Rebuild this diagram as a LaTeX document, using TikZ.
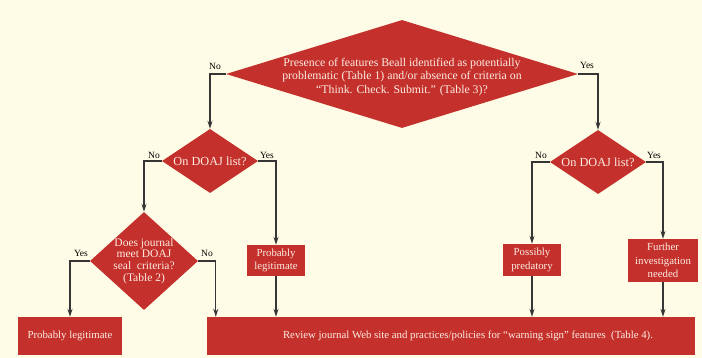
\documentclass[tikz,border=0pt]{standalone}
\usepackage{fontspec}
\setmainfont{Liberation Serif}
\usetikzlibrary{shapes.geometric,arrows.meta}
\definecolor{bgc}{HTML}{FEFCE6}
\definecolor{redc}{HTML}{C4302B}
\definecolor{txtc}{HTML}{FBEDE3}
\definecolor{linec}{HTML}{363636}
\tikzset{
  dia/.style={diamond, fill=redc, draw=none, inner sep=0pt},
  dtext/.style={text=txtc, align=center, font=\fontsize{11.8}{13.4}\selectfont, inner sep=0pt},
  rbox/.style={rectangle, fill=redc, draw=none, text=txtc, align=center, inner sep=2pt, font=\fontsize{10.8}{13.2}\selectfont},
  lab/.style={text=black, font=\fontsize{9.5}{10}\selectfont, inner sep=0pt},
  arr/.style={draw=linec, line width=1.2pt, -{Stealth[length=8pt,width=5pt]}}
}
\begin{document}
\begin{tikzpicture}[x=1pt,y=-1pt]
\fill[bgc] (0,0) rectangle (702,358);
\useasboundingbox (0,0) rectangle (702,358);

% diamonds
\node[dia, minimum width=352, minimum height=108] (q1) at (402,74) {};
\node[dtext] (q1t) at (402,77) {Presence of features Beall identified as potentially\\problematic (Table 1) and/or absence of criteria on\\``Think. Check. Submit.'' (Table 3)?};
\node[dia, minimum width=96, minimum height=64] (d1) at (210,161) {};
\node[dtext, font=\fontsize{12.3}{13}\selectfont] (d1t) at (d1) {On DOAJ list?};
\node[dia, minimum width=96, minimum height=64] (d2) at (598,162) {};
\node[dtext, font=\fontsize{12.3}{13}\selectfont] (d2t) at (d2) {On DOAJ list?};
\node[dia, minimum width=108, minimum height=98] (s) at (144,261) {};
\node[dtext, font=\fontsize{11.5}{11.8}\selectfont] (st) at (144,261) {Does journal\\meet DOAJ\\seal\ \ criteria?\\(Table 2)};

% boxes
\node[rbox, minimum width=104, minimum height=38] (pl1) at (70,336) {Probably legitimate};
\node[rbox, minimum width=488, minimum height=38] (big) at (451,336) {\hspace*{34pt}Review journal Web site and practices/policies for ``warning sign'' features\ \ (Table 4).};
\node[rbox, minimum width=58, minimum height=31] (pl2) at (276,260.5) {Probably\\legitimate};
\node[rbox, minimum width=58, minimum height=32] (pp) at (532,260) {Possibly\\predatory};
\node[rbox, minimum width=70, minimum height=43] (fi) at (663,260.5) {Further\\investigation\\needed};

% connectors
\draw[arr] (q1.west) -| (d1.north);
\draw[arr] (q1.east) -| (d2.north);
\draw[arr] (d1.west) -| (s.north);
\draw[arr] (d1.east) -| (pl2.north);
\draw[arr] (d2.west) -| (pp.north);
\draw[arr] (d2.east) -| (fi.north);
\draw[arr] (s.west) -| (pl1.north);
\draw[arr] (s.east) -| ([xshift=9pt]big.north west);
\draw[arr] (pl2.south) -- (pl2.south |- big.north);
\draw[arr] (pp.south) -- (pp.south |- big.north);
\draw[arr] (fi.south) -- (fi.south |- big.north);

% labels
\node[lab] (l1) at (215,66) {No};
\node[lab] (l2) at (587,65) {Yes};
\node[lab] (l3) at (154,155) {No};
\node[lab] (l4) at (267,155) {Yes};
\node[lab] (l5) at (541,155) {No};
\node[lab] (l6) at (654,155) {Yes};
\node[lab] (l7) at (81,253) {Yes};
\node[lab] (l8) at (207,253) {No};
\end{tikzpicture}
\end{document}
